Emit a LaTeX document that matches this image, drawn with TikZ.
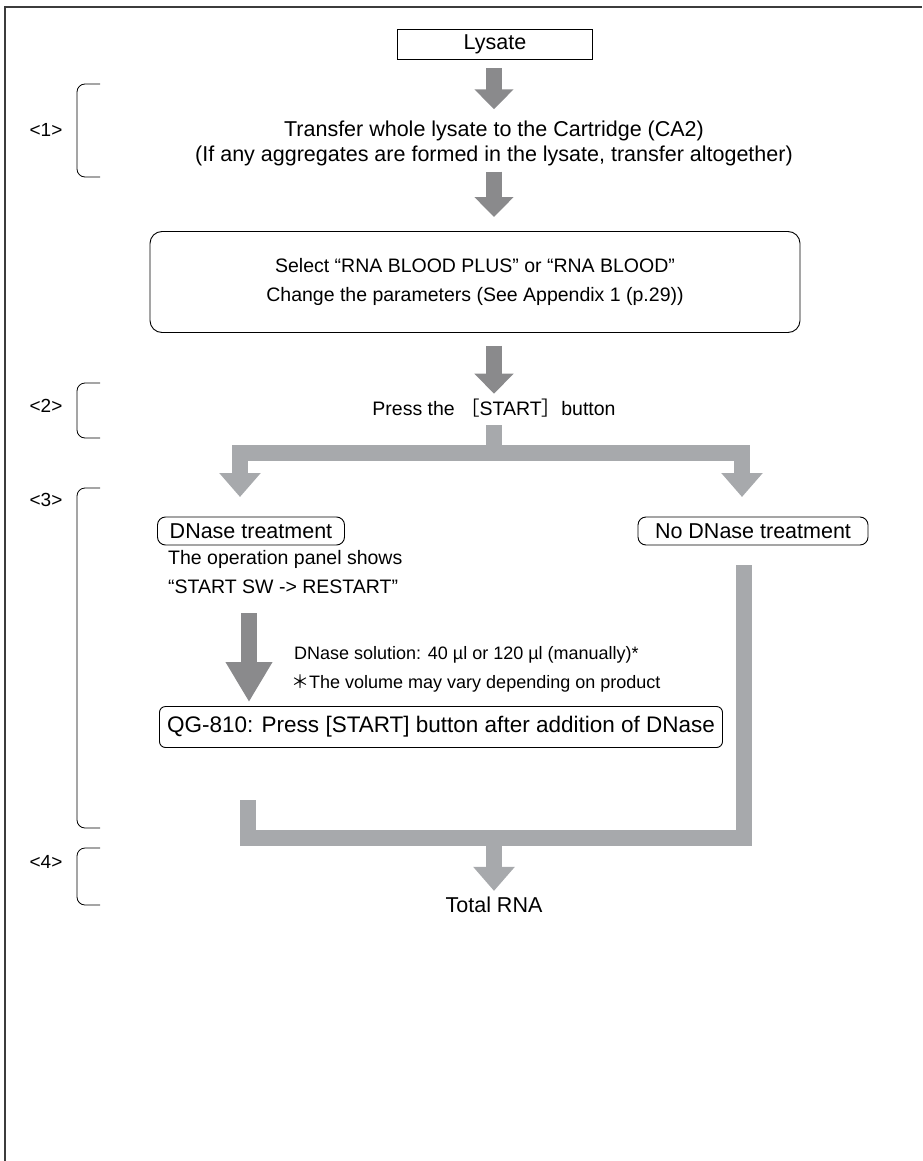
\documentclass[tikz,border=0pt]{standalone}
\usepackage{fontspec}
\setmainfont{Liberation Sans}
\newfontfamily\cjkfont{Noto Sans CJK JP}
\usetikzlibrary{arrows.meta, positioning}
\definecolor{arrowgray}{RGB}{138,138,140}
\definecolor{bargray}{RGB}{167,169,172}
\definecolor{framegray}{RGB}{60,60,60}

\tikzset{
  txt/.style={font=\fontsize{21.5}{25}\selectfont, align=center, inner sep=0pt},
  midtxt/.style={txt, font=\fontsize{19.5}{29}\selectfont},
  smalltxt/.style={font=\fontsize{18}{20}\selectfont, inner sep=0pt, anchor=west},
  steplabel/.style={font=\fontsize{19}{20}\selectfont, inner sep=0pt},
  flowbox/.style={txt, draw, line width=0.9pt},
  roundbox/.style={flowbox, rounded corners=8pt},
  downarrow/.style={arrowgray, line width=16pt, -{Triangle[width=38pt,length=20pt]}},
  bar/.style={bargray, line width=16pt, line join=miter},
  bararrow/.style={bar, -{Triangle[width=40pt,length=24pt]}},
  stepbracket/.style={line width=0.8pt, rounded corners=8pt},
}

\begin{document}
\begin{tikzpicture}[x=1pt, y=-1pt]
\useasboundingbox (0,0) rectangle (922,1161);
\draw[framegray, line width=1.6pt] (5,1161) -- (5,7) -- (922,7);

% main column
\node[flowbox, minimum width=195pt, minimum height=30pt] (lysate) at (495,44) {Lysate};
\node[txt] (transfer) at (494,143) {Transfer whole lysate to the Cartridge (CA2)\\
  (If any aggregates are formed in the lysate, transfer altogether)};
\node[roundbox, rounded corners=12pt, minimum width=650pt, minimum height=101pt, font=\fontsize{19.5}{29}\selectfont] (select) at (475,282)
  {Select “RNA BLOOD PLUS” or “RNA BLOOD”\\ Change the parameters (See Appendix 1 (p.29))};
\node[midtxt] (press) at (494,408) {Press the {\cjkfont ［}START{\cjkfont ］}button};

\draw[downarrow] ([yshift=-9pt]lysate.south -| transfer) -- ([yshift=11pt]transfer.north);
\draw[downarrow] ([yshift=-6pt]transfer.south) -- ([yshift=14pt]select.north -| transfer);
\draw[downarrow] ([yshift=-13pt]select.south -| press) -- ([yshift=5pt]press.north);

% branches
\node[roundbox, minimum width=187pt, minimum height=28pt] (dnase) at (251,531) {DNase treatment};
\node[roundbox, minimum width=230pt, minimum height=28pt] (nodnase) at (753,531) {No DNase treatment};
\coordinate (split) at (494,453);
\coordinate (ltip) at (240,497);
\coordinate (rtip) at (742,497);
\draw[bar] ([yshift=-8pt]press.south) -- (split);
\draw[bararrow] (split) -| (ltip);
\draw[bararrow] (split) -| (rtip);

\node[midtxt, align=left, anchor=west] (panel) at (168,572)
  {The operation panel shows\\ “START SW -> RESTART”};
\node[smalltxt] (dose) at (294,655) {DNase solution: 40 µl or 120 µl (manually)*};
\node[smalltxt] (note) at (291,683) {{\cjkfont ＊}The volume may vary depending on product};
\node[flowbox, rounded corners=6pt, font=\fontsize{22.5}{26}\selectfont, minimum width=563pt, minimum height=41pt] (qg) at (441,727)
  {QG-810: Press [START] button after addition of DNase};
\coordinate (dtop) at (249,613);
\draw[arrowgray, line width=16pt, -{Triangle[width=44pt,length=40pt]}] (dtop) -- ([yshift=4pt]qg.north -| dtop);

% merge
\coordinate (lbar) at (248,800);
\coordinate (rbar) at (744,565);
\coordinate (merge) at (494,838);
\draw[bar] (lbar) |- (merge) -| (rbar);
\node[txt] (total) at (494,905) {Total RNA};
\draw[bararrow] (merge) -- ([yshift=6pt]total.north);

% step brackets
\foreach \lab/\top/\bot/\ly in {1/84/177/130, 2/383/438/406, 3/488/828/500, 4/848/905/862} {
  \draw[stepbracket] (100,\top) -- (77,\top) -- (77,\bot) -- (100,\bot);
  \node[steplabel] (step\lab) at (46,\ly) {<\lab>};
}
\end{tikzpicture}
\end{document}
